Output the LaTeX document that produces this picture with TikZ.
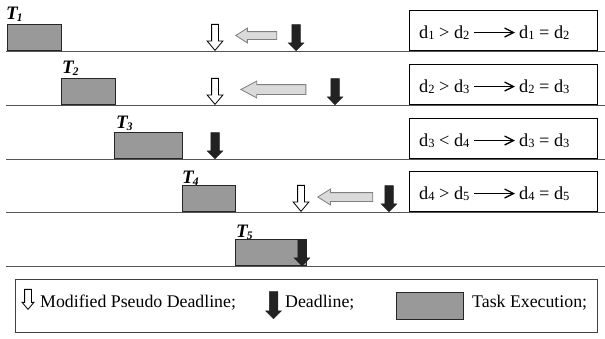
\documentclass[tikz,border=0pt]{standalone}
\usepackage{fontspec}
\setmainfont{Liberation Serif}
\usetikzlibrary{shapes.arrows,arrows.meta}
\definecolor{taskgray}{HTML}{999999}
\definecolor{dlblack}{HTML}{222222}
\definecolor{shiftfill}{HTML}{DADADA}
\definecolor{shiftline}{HTML}{7F7F7F}
\definecolor{axisgray}{HTML}{555555}
\newcommand{\sbd}[1]{\raisebox{-1.5pt}{\fontsize{12.5}{12.5}\selectfont #1}}
\newcommand{\tlab}[1]{\textbf{\textit{T}}\kern-1.5pt\raisebox{-2.5pt}{\fontsize{11.5}{11.5}\selectfont\textbf{\textit{#1}}}}
\tikzset{
  txt/.style={font=\fontsize{17.8}{20}\selectfont, inner sep=0pt},
  rtxt/.style={font=\fontsize{18.3}{20}\selectfont, inner sep=0pt},
  tlabel/.style={font=\fontsize{19}{20}\selectfont, inner sep=0pt, anchor=base west},
  axisline/.style={draw=axisgray, line width=1pt},
  taskbox/.style={draw=black!85, fill=taskgray, line width=0.9pt, inner sep=0pt, anchor=south west, minimum height=26},
  rulebox/.style={draw=black, line width=1.1pt, inner sep=0pt, anchor=south west, minimum width=188, minimum height=40},
  legbox/.style={draw=black!75, line width=1pt},
  hollowarrow/.style={single arrow, shape border rotate=270, draw=black, fill=white, line width=0.8pt,
     inner sep=3pt, single arrow head extend=4.5pt, single arrow tip angle=80, minimum height=26, anchor=tip},
  deadarrow/.style={single arrow, shape border rotate=270, draw=dlblack, fill=dlblack, line width=0.5pt,
     inner sep=4pt, single arrow head extend=3.5pt, single arrow tip angle=90, minimum height=26, anchor=tip},
  shiftarrow/.style={single arrow, shape border rotate=180, draw=shiftline, fill=shiftfill, line width=0.8pt,
     anchor=tip},
  implies/.style={line width=1pt, -{Straight Barb[length=9pt,width=9pt,line width=1.3pt]}}
}
\begin{document}
\begin{tikzpicture}[x=1pt,y=-1pt]
\useasboundingbox (0,0) rectangle (605,338);
% time axes
\foreach \yy/\nm in {51/ax1,105/ax2,159/ax3,212/ax4,266/ax5}{
  \coordinate (\nm s) at (6,\yy);
  \coordinate (\nm e) at (605,\yy);
  \draw[axisline] (\nm s) -- (\nm e);
}
% rule boxes
\node[rulebox] (b1) at (409,51) {};
\node[rulebox] (b2) at (409,105) {};
\node[rulebox] (b3) at (409,159) {};
\node[rulebox] (b4) at (409,212) {};
\node[rtxt, anchor=base west] (l1) at (419,38) {d\sbd{1} > d\sbd{2}};
\node[rtxt, anchor=base west] (r1) at (519,38) {d\sbd{1} = d\sbd{2}};
\node[rtxt, anchor=base west] (l2) at (419,92) {d\sbd{2} > d\sbd{3}};
\node[rtxt, anchor=base west] (r2) at (519,92) {d\sbd{2} = d\sbd{3}};
\node[rtxt, anchor=base west] (l3) at (419,146) {d\sbd{3} < d\sbd{4}};
\node[rtxt, anchor=base west] (r3) at (519,146) {d\sbd{3} = d\sbd{3}};
\node[rtxt, anchor=base west] (l4) at (419,199) {d\sbd{4} > d\sbd{5}};
\node[rtxt, anchor=base west] (r4) at (519,199) {d\sbd{4} = d\sbd{5}};
\foreach \i in {1,2,3,4}{
  \draw[implies] ([yshift=5.5pt]l\i.base -| 474,0) -- ([yshift=5.5pt]r\i.base -| 515,0);
}
% tasks
\node[taskbox, minimum width=54] (t1) at (7,51) {};
\node[taskbox, minimum width=54] (t2) at (61,105) {};
\node[taskbox, minimum width=68] (t3) at (114,159) {};
\node[taskbox, minimum width=53] (t4) at (182,212) {};
\node[taskbox, minimum width=71] (t5) at (235,266) {};
\node[tlabel] (tl1) at (6,19) {\tlab{1}};
\node[tlabel] (tl2) at (62,73) {\tlab{2}};
\node[tlabel] (tl3) at (116,128) {\tlab{3}};
\node[tlabel] (tl4) at (182,183) {\tlab{4}};
\node[tlabel] (tl5) at (236,237) {\tlab{5}};
% modified pseudo deadlines
\node[hollowarrow] (p1) at (215,51) {};
\node[hollowarrow] (p2) at (215,105) {};
\node[hollowarrow] (p4) at (301,212) {};
% deadlines
\node[deadarrow] (d1) at (296,51) {};
\node[deadarrow] (d2) at (335,105) {};
\node[deadarrow] (d3) at (215,159) {};
\node[deadarrow] (d4) at (389,212) {};
\node[deadarrow] (d5) at (302,266) {};
% shifting arrows
\node[shiftarrow, inner sep=3.5pt, single arrow head extend=3.5pt, single arrow tip angle=65, minimum height=41] (s1) at (235,35.5) {};
\node[shiftarrow, inner sep=4.5pt, single arrow head extend=3.5pt, single arrow tip angle=56, minimum height=65] (s2) at (240,89.5) {};
\node[shiftarrow, inner sep=4pt, single arrow head extend=3.5pt, single arrow tip angle=64, minimum height=55] (s4) at (317,197) {};
% legend
\draw[legbox] (15,279) rectangle (597,332);
\node[hollowarrow, minimum height=20, single arrow head extend=2.5pt, single arrow tip angle=80] (lp) at (28,310) {};
\node[txt, anchor=base west] (lpt) at (40,307) {Modified Pseudo Deadline;};
\node[deadarrow, minimum height=27] (ld) at (273.5,319) {};
\node[txt, anchor=base west] (ldt) at (285,307) {Deadline;};
\node[taskbox, minimum width=67, minimum height=27] (lt) at (396,320) {};
\node[txt, anchor=base west] (ltt) at (472,307) {Task Execution;};
\end{tikzpicture}
\end{document}
